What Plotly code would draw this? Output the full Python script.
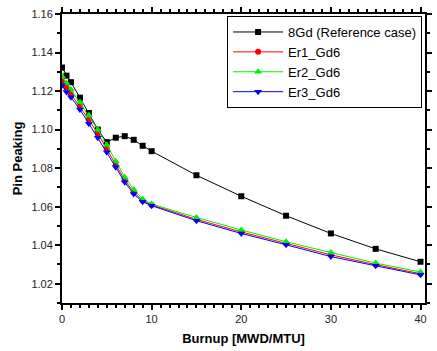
import plotly.graph_objects as go

burnup = [0, 0.5, 1, 2, 3, 4, 5, 6, 7, 8, 9, 10, 15, 20, 25, 30, 35, 40]
gd8 = [1.1322, 1.128, 1.1246, 1.1166, 1.1086, 1.1000, 1.0935, 1.0958, 1.0966, 1.0947, 1.0916, 1.0888,
       1.0763, 1.0654, 1.0553, 1.0461, 1.0381, 1.0314]
er1 = [1.1251, 1.1218, 1.1183, 1.1121, 1.1051, 1.0979, 1.0900, 1.0815, 1.0738, 1.0675, 1.0631, 1.0609,
       1.0534, 1.0469, 1.0409, 1.0350, 1.0299, 1.0252]
er2 = [1.1277, 1.1242, 1.1208, 1.1143, 1.1074, 1.0999, 1.0921, 1.0836, 1.0753, 1.0689, 1.0640, 1.0614,
       1.0544, 1.0479, 1.0418, 1.0362, 1.0307, 1.0261]
er3 = [1.1230, 1.1195, 1.1168, 1.1104, 1.1031, 1.0958, 1.0883, 1.0805, 1.0727, 1.0666, 1.0626, 1.0605,
       1.0527, 1.0461, 1.0402, 1.0341, 1.0293, 1.0246]

series = [
    ("8Gd (Reference case)", gd8, "black", "square", 6),
    ("Er1_Gd6", er1, "red", "circle", 6),
    ("Er2_Gd6", er2, "#00ee00", "triangle-up", 7),
    ("Er3_Gd6", er3, "blue", "triangle-down", 7),
]

fig = go.Figure()
for name, ys, col, sym, sz in series:
    fig.add_trace(go.Scatter(x=burnup, y=ys, name=name, mode="lines+markers",
                             line=dict(color=col, width=1),
                             marker=dict(color=col, symbol=sym, size=sz)))

axis_common = dict(showline=True, linecolor="black", linewidth=2, mirror="allticks",
                   ticks="outside", tickcolor="black", ticklen=5, tickwidth=1.5,
                   showgrid=False, zeroline=False,
                   tickfont=dict(family="Arial, Liberation Sans", size=11, color="#222"))

fig.update_xaxes(range=[0, 40.5], dtick=10, tick0=0,
                 minor=dict(dtick=1, ticks="outside", ticklen=3, tickcolor="black"),
                 title=dict(text="<b>Burnup [MWD/MTU]</b>", font=dict(family="Arial, Liberation Sans", size=13, color="black"), standoff=10),
                 **axis_common)
fig.update_yaxes(range=[1.01, 1.16], dtick=0.02, tick0=1.02, tickformat=".2f",
                 minor=dict(dtick=0.01, ticks="outside", ticklen=3, tickcolor="black"),
                 title=dict(text="<b>Pin Peaking</b>", font=dict(family="Arial, Liberation Sans", size=13, color="black"), standoff=6),
                 **axis_common)

fig.update_layout(
    width=437, height=351,
    margin=dict(l=62, r=5, t=14, b=48),
    plot_bgcolor="white", paper_bgcolor="white",
    font=dict(family="Arial, Liberation Sans", size=13, color="black"),
    legend=dict(x=0.992, y=0.993, xanchor="right", yanchor="top",
                bordercolor="black", borderwidth=1, bgcolor="white",
                font=dict(size=13), itemwidth=50),
)

fig.write_html("out.html")
